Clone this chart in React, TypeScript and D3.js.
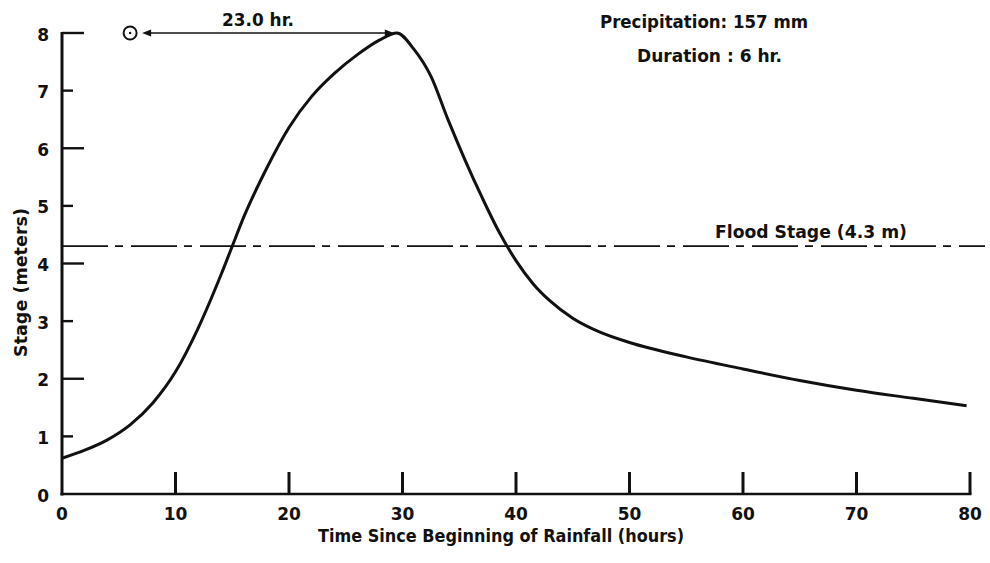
import React from "react";
import * as d3 from "d3";

const hours = [0, 2, 4, 6, 8, 10, 12, 14, 15, 16, 18, 20, 22, 24, 26, 28, 29.5, 31, 32.5, 34, 35.5, 37, 38.5, 40, 41.5, 43, 45, 47.5, 50, 55, 60, 65, 70, 75, 79.7];
const stage = [0.62, 0.76, 0.94, 1.2, 1.58, 2.12, 2.88, 3.8, 4.3, 4.8, 5.64, 6.36, 6.9, 7.3, 7.62, 7.88, 8.0, 7.72, 7.25, 6.5, 5.8, 5.15, 4.55, 4.05, 3.65, 3.35, 3.05, 2.8, 2.63, 2.38, 2.17, 1.97, 1.8, 1.66, 1.53];
const xTicks = [0, 10, 20, 30, 40, 50, 60, 70, 80];
const yTicks = [0, 1, 2, 3, 4, 5, 6, 7, 8];
const floodStage = 4.3;
const startHour = 6.0;
const peakHour = 29.5;

const W = 990;
const H = 563;
const FONT = "'DejaVu Sans', 'Open Sans', sans-serif";

export default function App() {
  const x = d3.scaleLinear().domain([0, 80]).range([62, 970]);
  const y = d3.scaleLinear().domain([0, 8]).range([494, 33]);
  const pts: [number, number][] = hours.map((h, i) => [h, stage[i]]);
  const line = d3
    .line<[number, number]>()
    .x((d) => x(d[0]))
    .y((d) => y(d[1]))
    .curve(d3.curveMonotoneX);

  const arrowY = y(8);
  const ax0 = x(startHour) + 12;
  const ax1 = x(peakHour) - 3;

  return (
    <svg width={W} height={H} style={{ position: "absolute", left: 0, top: 0, background: "#fff" }} fontFamily={FONT}>
      <rect x={0} y={0} width={W} height={H} fill="#fff" />
      {/* flood stage line */}
      <line x1={x(0)} x2={985} y1={y(floodStage)} y2={y(floodStage)} stroke="#111" strokeWidth={1.8} strokeDasharray="46 7 8 8" />
      {/* axes */}
      <line x1={x(0)} x2={x(0)} y1={y(8) - 1} y2={y(0) + 1.5} stroke="#111" strokeWidth={3} />
      <line x1={x(0) - 1.5} x2={x(80) + 1.5} y1={y(0)} y2={y(0)} stroke="#111" strokeWidth={2.6} />
      {yTicks.filter((t) => t > 0).map((t) => (
        <line key={"yt" + t} x1={x(0)} x2={x(0) + (t % 2 === 0 ? 22 : 11)} y1={y(t)} y2={y(t)} stroke="#111" strokeWidth={2.4} />
      ))}
      {xTicks.filter((t) => t > 0).map((t) => (
        <line key={"xt" + t} x1={x(t)} x2={x(t)} y1={y(0)} y2={y(0) - 22} stroke="#111" strokeWidth={3} />
      ))}
      {/* tick labels */}
      {yTicks.map((t) => (
        <text key={"yl" + t} x={49} y={y(t) + 7.5} textAnchor="end" fontSize={17} fontWeight={700} fill="#111">{t}</text>
      ))}
      {xTicks.map((t) => (
        <text key={"xl" + t} x={x(t)} y={520} textAnchor="middle" fontSize={17} fontWeight={700} fill="#111">{t}</text>
      ))}
      {/* axis titles */}
      <text x={318} y={542} fontSize={17} fontWeight={700} fill="#111" textLength={366} lengthAdjust="spacingAndGlyphs">Time Since Beginning of Rainfall (hours)</text>
      <text transform={`translate(27,357) rotate(-90)`} fontSize={17} fontWeight={700} fill="#111" textLength={149} lengthAdjust="spacingAndGlyphs">Stage (meters)</text>
      {/* hydrograph */}
      <path d={line(pts) || ""} fill="none" stroke="#111" strokeWidth={3} strokeLinejoin="round" />
      {/* start circle */}
      <circle cx={x(startHour)} cy={arrowY} r={6.5} fill="none" stroke="#111" strokeWidth={2} />
      <circle cx={x(startHour)} cy={arrowY} r={1.2} fill="#111" />
      {/* arrow */}
      <line x1={ax0 + 4} x2={ax1 - 6} y1={arrowY} y2={arrowY} stroke="#111" strokeWidth={1.5} />
      <path d={`M${ax0},${arrowY} L${ax0 + 9},${arrowY - 3.5} L${ax0 + 9},${arrowY + 3.5} Z`} fill="#111" />
      <path d={`M${ax1},${arrowY} L${ax1 - 9},${arrowY - 3.5} L${ax1 - 9},${arrowY + 3.5} Z`} fill="#111" />
      <text x={222} y={26} fontSize={17} fontWeight={700} fill="#111" textLength={72} lengthAdjust="spacingAndGlyphs">23.0 hr.</text>
      {/* annotations */}
      <text x={600} y={28} fontSize={18} fontWeight={700} fill="#111" textLength={208} lengthAdjust="spacingAndGlyphs">Precipitation: 157 mm</text>
      <text x={637} y={62} fontSize={18} fontWeight={700} fill="#111" textLength={145} lengthAdjust="spacingAndGlyphs">Duration : 6 hr.</text>
      <text x={715} y={238} fontSize={18} fontWeight={700} fill="#111" textLength={192} lengthAdjust="spacingAndGlyphs">Flood  Stage (4.3 m)</text>
    </svg>
  );
}
